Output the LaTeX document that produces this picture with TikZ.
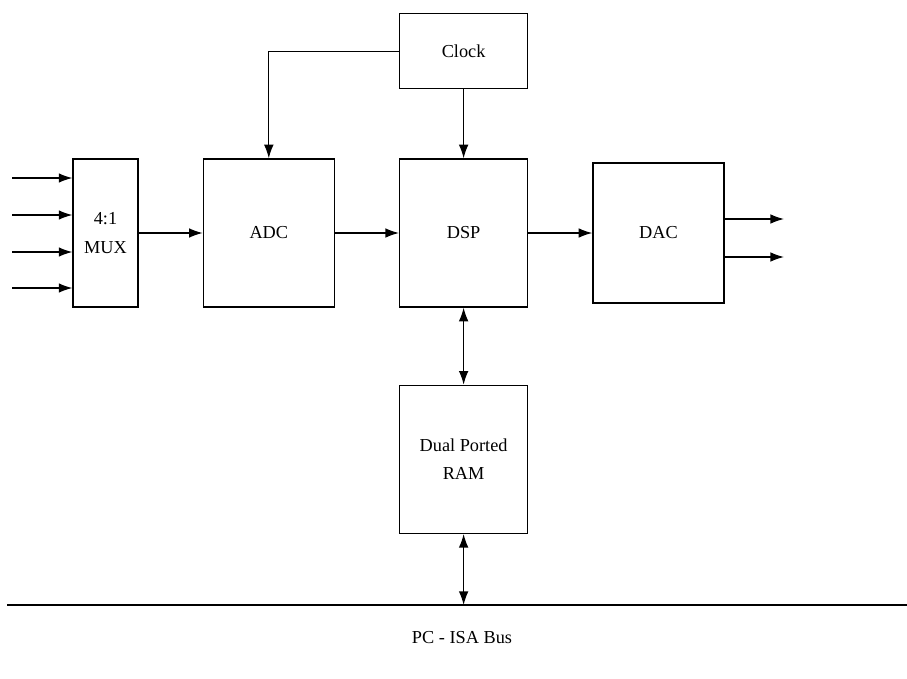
\documentclass[tikz,border=0pt]{standalone}
\usepackage{fontspec}
\setmainfont{Liberation Serif}
\usepackage{tikz}
\usetikzlibrary{positioning, arrows.meta}

\begin{document}
\begin{tikzpicture}[
  x=0.025cm, y=-0.025cm,
  node distance=1.6cm,
  line width=0.9pt,
  block/.style={draw, minimum width=3.275cm, minimum height=3.7cm,
    inner sep=0pt, align=center, font=\fontsize{13}{20}\selectfont},
  >={Latex[length=3.4mm,width=2.4mm]}
]
  \useasboundingbox (0,0) rectangle (907,678);

  % blocks
  \node[block, minimum width=1.625cm] (mux) at (105.5,233) {4:1\\MUX};
  \node[block, right=of mux] (adc) {ADC};
  \node[block, minimum width=3.2cm, right=of adc] (dsp) {DSP};
  \node[block, minimum height=3.5cm, right=of dsp] (dac) {DAC};
  \node[block, minimum width=3.2cm, minimum height=1.875cm, above=1.725cm of dsp] (clock) {Clock};
  \node[block, minimum width=3.2cm, below=1.925cm of dsp] (ram) {Dual Ported\\RAM};

  % bus
  \coordinate (busL) at (7,605);
  \coordinate (busR) at (907,605);
  \draw[line width=1.1pt] (busL) -- (busR);
  \node[font=\fontsize{13}{20}\selectfont] (buslabel) at (462,638) {PC - ISA Bus};

  % inputs and outputs
  \foreach \y [count=\i] in {178,215,252,288} {
    \coordinate (in\i) at (12,\y);
    \draw[->] (in\i) -- (in\i -| mux.west);
  }
  \foreach \y [count=\i] in {219,257} {
    \coordinate (out\i) at (784,\y);
    \draw[->] (dac.east |- out\i) -- (out\i);
  }

  % signal path
  \draw[->] (mux) -- (adc);
  \draw[->] (adc) -- (dsp);
  \draw[->] (dsp) -- (dac);
  \draw[->] (clock.west) -| (adc.north);
  \draw[->] (clock) -- (dsp);
  \draw[<->] (dsp) -- (ram);
  \draw[<->] (ram.south) -- (ram.south |- busL);
\end{tikzpicture}
\end{document}
